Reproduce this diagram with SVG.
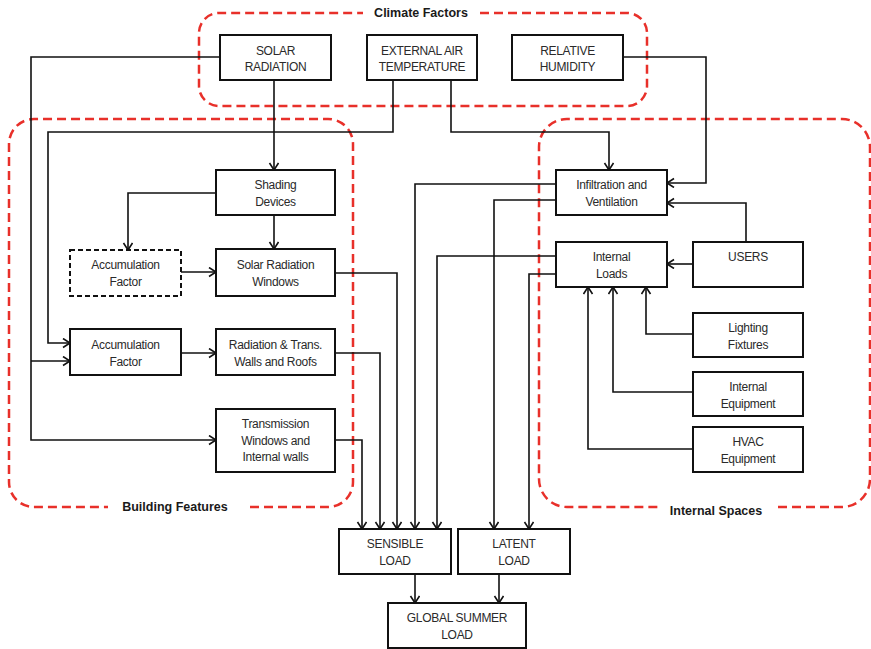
<svg xmlns="http://www.w3.org/2000/svg" width="871" height="649" viewBox="0 0 871 649">
<defs>
<marker id="arr" markerWidth="12" markerHeight="12" refX="8" refY="5" orient="auto" markerUnits="userSpaceOnUse">
<path d="M1,0.5 L8,5 L1,9.5" fill="none" stroke="#111" stroke-width="1.6"/>
</marker>
<style>
.box{fill:#fff;stroke:#111;stroke-width:2}
.dbox{fill:#fff;stroke:#111;stroke-width:2;stroke-dasharray:5 3}
.t{font-family:"Liberation Sans",Arial,sans-serif;font-size:12px;fill:#2a2a2a;text-anchor:middle;letter-spacing:-0.3px}
.lbl{font-family:"Liberation Sans",Arial,sans-serif;font-size:12.5px;font-weight:bold;fill:#1a1a1a;text-anchor:middle}
.reg{fill:none;stroke:#e8302a;stroke-width:2.5;stroke-dasharray:9 5}
.c{fill:none;stroke:#111;stroke-width:1.6}
.ca{fill:none;stroke:#111;stroke-width:1.6;marker-end:url(#arr)}
</style>
</defs>
<rect width="871" height="649" fill="#fff"/>

<g id="regions">
<path class="reg" d="M480,13 H627 A20,20 0 0 1 647,33 V86 A20,20 0 0 1 627,106 H219 A20,20 0 0 1 199,86 V33 A20,20 0 0 1 219,13 H363"/>
<text class="lbl" x="421" y="17">Climate Factors</text>
<path class="reg" d="M250,507 H328 A25,25 0 0 0 353,482 V144 A25,25 0 0 0 328,119 H34 A25,25 0 0 0 9,144 V482 A25,25 0 0 0 34,507 H108"/>
<text class="lbl" x="175" y="511">Building Features</text>
<path class="reg" d="M778,507 H842 A28,28 0 0 0 870,479 V147 A28,28 0 0 0 842,119 H567 A28,28 0 0 0 539,147 V479 A28,28 0 0 0 567,507 H658"/>
<text class="lbl" x="716" y="515">Internal Spaces</text>
</g>

<g id="connectors">
<path class="ca" d="M220,57 H31 V440 H216"/>
<path class="ca" d="M31,361 H70"/>
<path class="ca" d="M274,80 V170"/>
<path class="ca" d="M393,80 V132 H48 V343 H70"/>
<path class="ca" d="M451,80 V132 H609 V170"/>
<path class="ca" d="M623,57 H706 V183 H667"/>
<path class="ca" d="M216,193 H128 V250"/>
<path class="ca" d="M274,215 V249"/>
<path class="ca" d="M181,272 H216"/>
<path class="ca" d="M181,353 H216"/>
<path class="ca" d="M335,273 H397 V529"/>
<path class="ca" d="M335,353 H380 V529"/>
<path class="ca" d="M335,440 H362 V529"/>
<path class="ca" d="M556,184 H415 V529"/>
<path class="ca" d="M556,200 H494 V529"/>
<path class="ca" d="M556,256 H437 V529"/>
<path class="ca" d="M556,274 H529 V529"/>
<path class="ca" d="M746,242 V203 H667"/>
<path class="ca" d="M693,264 H667"/>
<path class="ca" d="M693,334 H646 V287"/>
<path class="ca" d="M693,392 H613 V287"/>
<path class="ca" d="M693,449 H588 V287"/>
<path class="ca" d="M415,574 V603"/>
<path class="ca" d="M499,574 V603"/>
</g>

<g id="solar-radiation"><rect class="box" x="220" y="35" width="111" height="45"/><text class="t" x="275.5" y="54.5">SOLAR</text><text class="t" x="275.5" y="71">RADIATION</text></g>
<g id="external-air-temperature"><rect class="box" x="367" y="35" width="110" height="45"/><text class="t" x="422" y="54.5">EXTERNAL AIR</text><text class="t" x="422" y="71">TEMPERATURE</text></g>
<g id="relative-humidity"><rect class="box" x="512" y="35" width="111" height="45"/><text class="t" x="567.5" y="54.5">RELATIVE</text><text class="t" x="567.5" y="71">HUMIDITY</text></g>

<g id="shading-devices"><rect class="box" x="216" y="170" width="119" height="45"/><text class="t" x="275.5" y="189">Shading</text><text class="t" x="275.5" y="206">Devices</text></g>
<g id="accumulation-factor-1"><rect class="dbox" x="70" y="250" width="111" height="46"/><text class="t" x="125.5" y="269">Accumulation</text><text class="t" x="125.5" y="286">Factor</text></g>
<g id="solar-radiation-windows"><rect class="box" x="216" y="249" width="119" height="47"/><text class="t" x="275.5" y="269">Solar Radiation</text><text class="t" x="275.5" y="286">Windows</text></g>
<g id="accumulation-factor-2"><rect class="box" x="70" y="329" width="111" height="46"/><text class="t" x="125.5" y="349">Accumulation</text><text class="t" x="125.5" y="366">Factor</text></g>
<g id="radiation-walls-roofs"><rect class="box" x="216" y="329" width="119" height="46"/><text class="t" x="275.5" y="349">Radiation &amp; Trans.</text><text class="t" x="275.5" y="366">Walls and Roofs</text></g>
<g id="transmission"><rect class="box" x="216" y="409" width="119" height="63"/><text class="t" x="275.5" y="428">Transmission</text><text class="t" x="275.5" y="444.5">Windows and</text><text class="t" x="275.5" y="461">Internal walls</text></g>

<g id="infiltration-ventilation"><rect class="box" x="556" y="170" width="111" height="45"/><text class="t" x="611.5" y="189">Infiltration and</text><text class="t" x="611.5" y="206">Ventilation</text></g>
<g id="internal-loads"><rect class="box" x="556" y="242" width="111" height="45"/><text class="t" x="611.5" y="261">Internal</text><text class="t" x="611.5" y="278">Loads</text></g>
<g id="users"><rect class="box" x="693" y="242" width="110" height="45"/><text class="t" x="748" y="260.5">USERS</text></g>
<g id="lighting-fixtures"><rect class="box" x="693" y="313" width="110" height="44"/><text class="t" x="748" y="332">Lighting</text><text class="t" x="748" y="349">Fixtures</text></g>
<g id="internal-equipment"><rect class="box" x="693" y="372" width="110" height="44"/><text class="t" x="748" y="391">Internal</text><text class="t" x="748" y="408">Equipment</text></g>
<g id="hvac-equipment"><rect class="box" x="693" y="427" width="110" height="45"/><text class="t" x="748" y="446">HVAC</text><text class="t" x="748" y="463">Equipment</text></g>

<g id="sensible-load"><rect class="box" x="339" y="529" width="112" height="45"/><text class="t" x="395" y="548">SENSIBLE</text><text class="t" x="395" y="565">LOAD</text></g>
<g id="latent-load"><rect class="box" x="458" y="529" width="112" height="45"/><text class="t" x="514" y="548">LATENT</text><text class="t" x="514" y="565">LOAD</text></g>
<g id="global-summer-load"><rect class="box" x="388" y="603" width="138" height="45"/><text class="t" x="457" y="622">GLOBAL SUMMER</text><text class="t" x="457" y="639">LOAD</text></g>
</svg>
